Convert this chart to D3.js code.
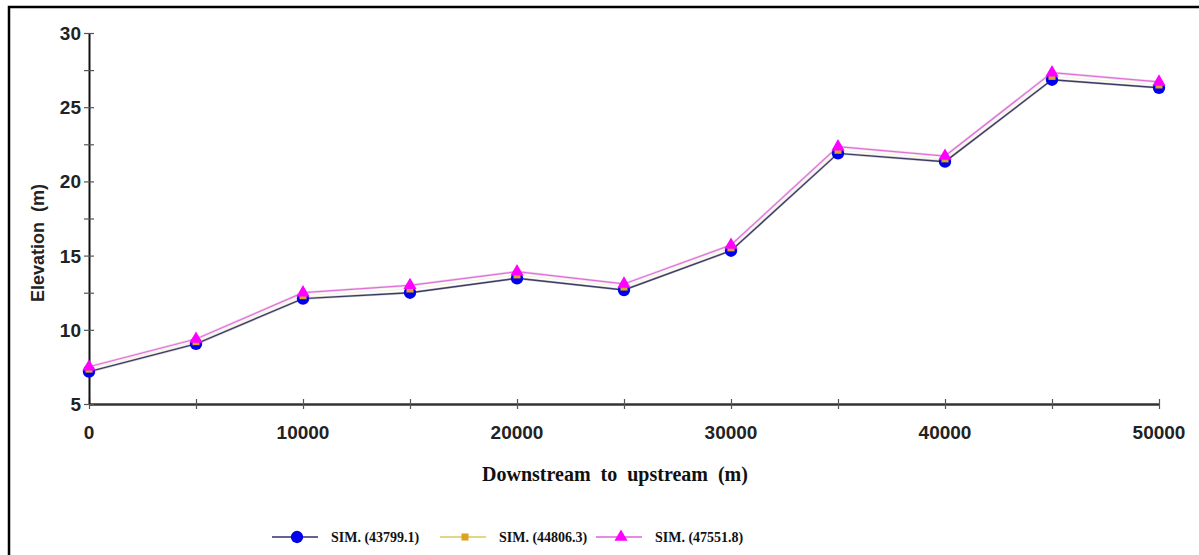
<!DOCTYPE html>
<html>
<head>
<meta charset="utf-8">
<script src="https://cdn.jsdelivr.net/npm/d3@7"></script>
<style>
  body { margin: 0; background: #fff; }
  svg { display: block; }
  .tick-label { font-family: "Liberation Sans", Arial, sans-serif; font-weight: bold; font-size: 19px; fill: #222; }
  .serif { font-family: "Liberation Serif", "Times New Roman", serif; font-weight: bold; fill: #111; }
</style>
</head>
<body>
<svg id="svg"></svg>
<script>
const distances = [0, 5000, 10000, 15000, 20000, 25000, 30000, 35000, 40000, 45000, 50000];
const sim1 = [7.18, 9.05, 12.1, 12.5, 13.47, 12.68, 15.33, 21.89, 21.33, 26.85, 26.31];
const sim2 = [7.35, 9.2, 12.3, 12.75, 13.7, 12.88, 15.52, 22.1, 21.52, 27.08, 26.5];
const sim3 = [7.51, 9.38, 12.5, 13.0, 13.92, 13.09, 15.71, 22.34, 21.71, 27.33, 26.7];
const seriesNames = ['SIM. (43799.1)', 'SIM. (44806.3)', 'SIM. (47551.8)'];
const xTicks = [0, 10000, 20000, 30000, 40000, 50000];
const yTicks = [5, 10, 15, 20, 25, 30];

const W = 1199, H = 555;
const svg = d3.select('#svg').attr('width', W).attr('height', H);

// frame
svg.append('rect')
  .attr('x', 9).attr('y', 7).attr('width', 1210).attr('height', 560)
  .attr('fill', 'none').attr('stroke', '#000').attr('stroke-width', 2.5);

const x = d3.scaleLinear().domain([0, 50000]).range([89, 1159]);
const y = d3.scaleLinear().domain([5, 30]).range([404, 33]);

// axes
const xAxis = svg.append('g').attr('transform', `translate(0,${y(5)})`)
  .call(d3.axisBottom(x).tickValues(d3.range(0, 50001, 5000)).tickSize(0).tickFormat(''));
xAxis.select('.domain').attr('stroke', '#333').attr('stroke-width', 2.5);
xAxis.selectAll('.tick').append('line').attr('y1', -5).attr('y2', 5).attr('stroke', '#555').attr('stroke-width', 1.2);

const yAxis = svg.append('g').attr('transform', `translate(${x(0)},0)`)
  .call(d3.axisLeft(y).tickValues(d3.range(5, 30.01, 2.5)).tickSize(0).tickFormat(''));
yAxis.select('.domain').attr('stroke', '#111').attr('stroke-width', 2);
yAxis.selectAll('.tick').append('line').attr('x1', -5).attr('x2', 5).attr('stroke', '#555').attr('stroke-width', 1.2);

svg.append('g').selectAll('text').data(xTicks).enter().append('text')
  .attr('class', 'tick-label')
  .attr('x', d => x(d)).attr('y', 439)
  .attr('text-anchor', 'middle')
  .text(d => d);

svg.append('g').selectAll('text').data(yTicks).enter().append('text')
  .attr('class', 'tick-label')
  .attr('x', 81).attr('y', d => y(d) + 7)
  .attr('text-anchor', 'end')
  .text(d => d);

svg.append('text')
  .attr('class', 'tick-label')
  .attr('transform', 'translate(44,243) rotate(-90)')
  .attr('text-anchor', 'middle')
  .style('font-size', '18px')
  .attr('xml:space', 'preserve')
  .text('Elevation  (m)');

svg.append('text')
  .attr('class', 'serif')
  .attr('x', 615).attr('y', 481)
  .attr('text-anchor', 'middle')
  .style('font-size', '20px')
  .attr('xml:space', 'preserve')
  .text('Downstream  to  upstream  (m)');

// series
const series = [
  {name: seriesNames[0], values: sim1, line: '#3c3c66', legendLine: '#30306a', width: 1.4, halo: '#d8d8d8', fill: '#0000ee', shape: d3.symbolCircle, size: 120},
  {name: seriesNames[1], values: sim2, line: '#f6f2dc', legendLine: '#d8c860', width: 1, halo: 'none', fill: '#e0a020', shape: d3.symbolSquare, size: 50},
  {name: seriesNames[2], values: sim3, line: '#e070d8', legendLine: '#e060e0', width: 1.2, halo: '#f0d8f0', fill: '#ff00ff', shape: d3.symbolTriangle, size: 75}
];

const line = d3.line().x((d, i) => x(distances[i])).y(d => y(d));

series.forEach(s => {
  svg.append('path')
    .datum(s.values)
    .attr('d', line)
    .attr('fill', 'none')
    .attr('stroke', s.halo)
    .attr('stroke-width', 2.6);
});
series.forEach(s => {
  svg.append('path')
    .datum(s.values)
    .attr('d', line)
    .attr('fill', 'none')
    .attr('stroke', s.line)
    .attr('stroke-width', s.width);
});
series.forEach(s => {
  svg.append('g').selectAll('path').data(s.values).enter().append('path')
    .attr('transform', (d, i) => `translate(${x(distances[i])},${y(d)})`)
    .attr('d', d3.symbol().type(s.shape).size(s.size))
    .attr('fill', s.fill);
});

// legend
const legendX = [272, 440, 596];
const legend = svg.append('g').selectAll('g').data(series).enter().append('g')
  .attr('transform', (d, i) => `translate(${legendX[i]},537)`);
legend.append('line')
  .attr('x1', 0).attr('x2', 46).attr('y1', 0).attr('y2', 0)
  .attr('stroke', d => d.legendLine).attr('stroke-width', 1.5);
legend.append('path')
  .attr('transform', 'translate(25,0)')
  .attr('d', d => d3.symbol().type(d.shape).size(d.size)())
  .attr('fill', d => d.fill);
legend.append('text')
  .attr('class', 'serif')
  .attr('x', 59).attr('y', 5)
  .style('font-size', '14px')
  .text(d => d.name);
</script>
</body>
</html>
